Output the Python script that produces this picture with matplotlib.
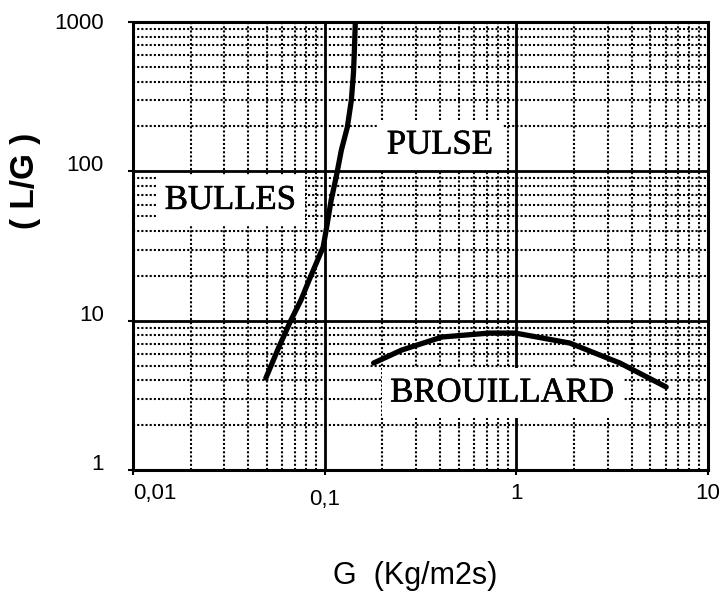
import matplotlib.pyplot as plt
import matplotlib.transforms as mtransforms
import matplotlib.patheffects as pe
from matplotlib.ticker import FixedLocator, NullFormatter

# frontiere bulles / pulse
bulles_x = [0.0493, 0.0577, 0.0667, 0.0753, 0.0829, 0.0982, 0.1018,
            0.1081, 0.1148, 0.1222, 0.1313, 0.1378, 0.1413, 0.1429, 0.1445]
bulles_y = [4.13, 6.67, 10.1, 13.8, 18.7, 31.2, 40.5,
            64.3, 91.7, 139, 198, 301, 456, 650, 1000]

# frontiere brouillard
brouil_x = [0.180, 0.252, 0.409, 0.722, 0.989, 1.90, 3.47, 6.05]
brouil_y = [5.21, 6.36, 7.78, 8.27, 8.27, 7.09, 5.21, 3.60]

x_ticks = [0.01, 0.1, 1, 10]
x_labels = ['0,01', '0,1', '1', '10']
y_ticks = [1, 10, 100, 1000]
y_labels = ['1', '10', '100', '1000']

regimes = ['PULSE', 'BULLES', 'BROUILLARD']
regime_x = [0.40, 0.0323, 0.845]
regime_y = [150, 64, 3.28]

plt.rcParams['font.family'] = ['Liberation Sans', 'DejaVu Sans']

fig = plt.figure(figsize=(7.21, 6.05), dpi=100)
ax = fig.add_axes([0.1845, 0.223, 0.7975, 0.7405])
ax.set_xscale('log')
ax.set_yscale('log')
ax.set_xlim(0.01, 10)
ax.set_ylim(1, 1000)

# grille
ax.grid(which='major', ls='-', lw=2.0, color='k', zorder=1)
ax.grid(which='minor', ls=(0, (1, 1)), lw=1.5, color='k', zorder=1)
ax.set_axisbelow(True)
for s in ax.spines.values():
    s.set_linewidth(2.2)

ax.xaxis.set_major_locator(FixedLocator(x_ticks))
ax.yaxis.set_major_locator(FixedLocator(y_ticks))
ax.xaxis.set_minor_formatter(NullFormatter())
ax.yaxis.set_minor_formatter(NullFormatter())
ax.set_xticklabels(x_labels)
ax.set_yticklabels(y_labels)
ax.tick_params(which='major', direction='out', length=3.6, width=1.5, labelsize=16)
ax.tick_params(axis='x', pad=5.5)
ax.tick_params(axis='y', pad=17.5)
ax.tick_params(which='minor', length=0)

# decalages des etiquettes comme sur l'original
xl = ax.get_xticklabels()
xl[0].set_ha('left')
xl[1].set_transform(xl[1].get_transform() + mtransforms.ScaledTranslation(0, -6 / 100, fig.dpi_scale_trans))
y_shift = [8, 8, 8, 1]
for lab, dy in zip(ax.get_yticklabels(), y_shift):
    lab.set_transform(lab.get_transform() + mtransforms.ScaledTranslation(0, dy / 100, fig.dpi_scale_trans))

ax.plot(bulles_x, bulles_y, color='k', lw=3.8, solid_capstyle='round', solid_joinstyle='round', zorder=4)
ax.plot(brouil_x, brouil_y, color='k', lw=3.8, solid_capstyle='round', solid_joinstyle='round', zorder=4)

for name, x, y in zip(regimes, regime_x, regime_y):
    ax.text(x, y, name, family='Liberation Serif', fontsize=25, ha='center', va='center', zorder=3,
            bbox=dict(boxstyle='square,pad=0.25', fc='white', ec='none'),
            path_effects=[pe.withStroke(linewidth=0.45, foreground='k')])

ax.set_xlabel('G  (Kg/m2s)', fontsize=22)
ax.xaxis.set_label_coords(0.49, -0.202)
ax.set_ylabel('( L/G )', fontsize=24, fontweight='bold')
ax.yaxis.set_label_coords(-0.16, 0.645)

fig.savefig('out.png', dpi=100)
